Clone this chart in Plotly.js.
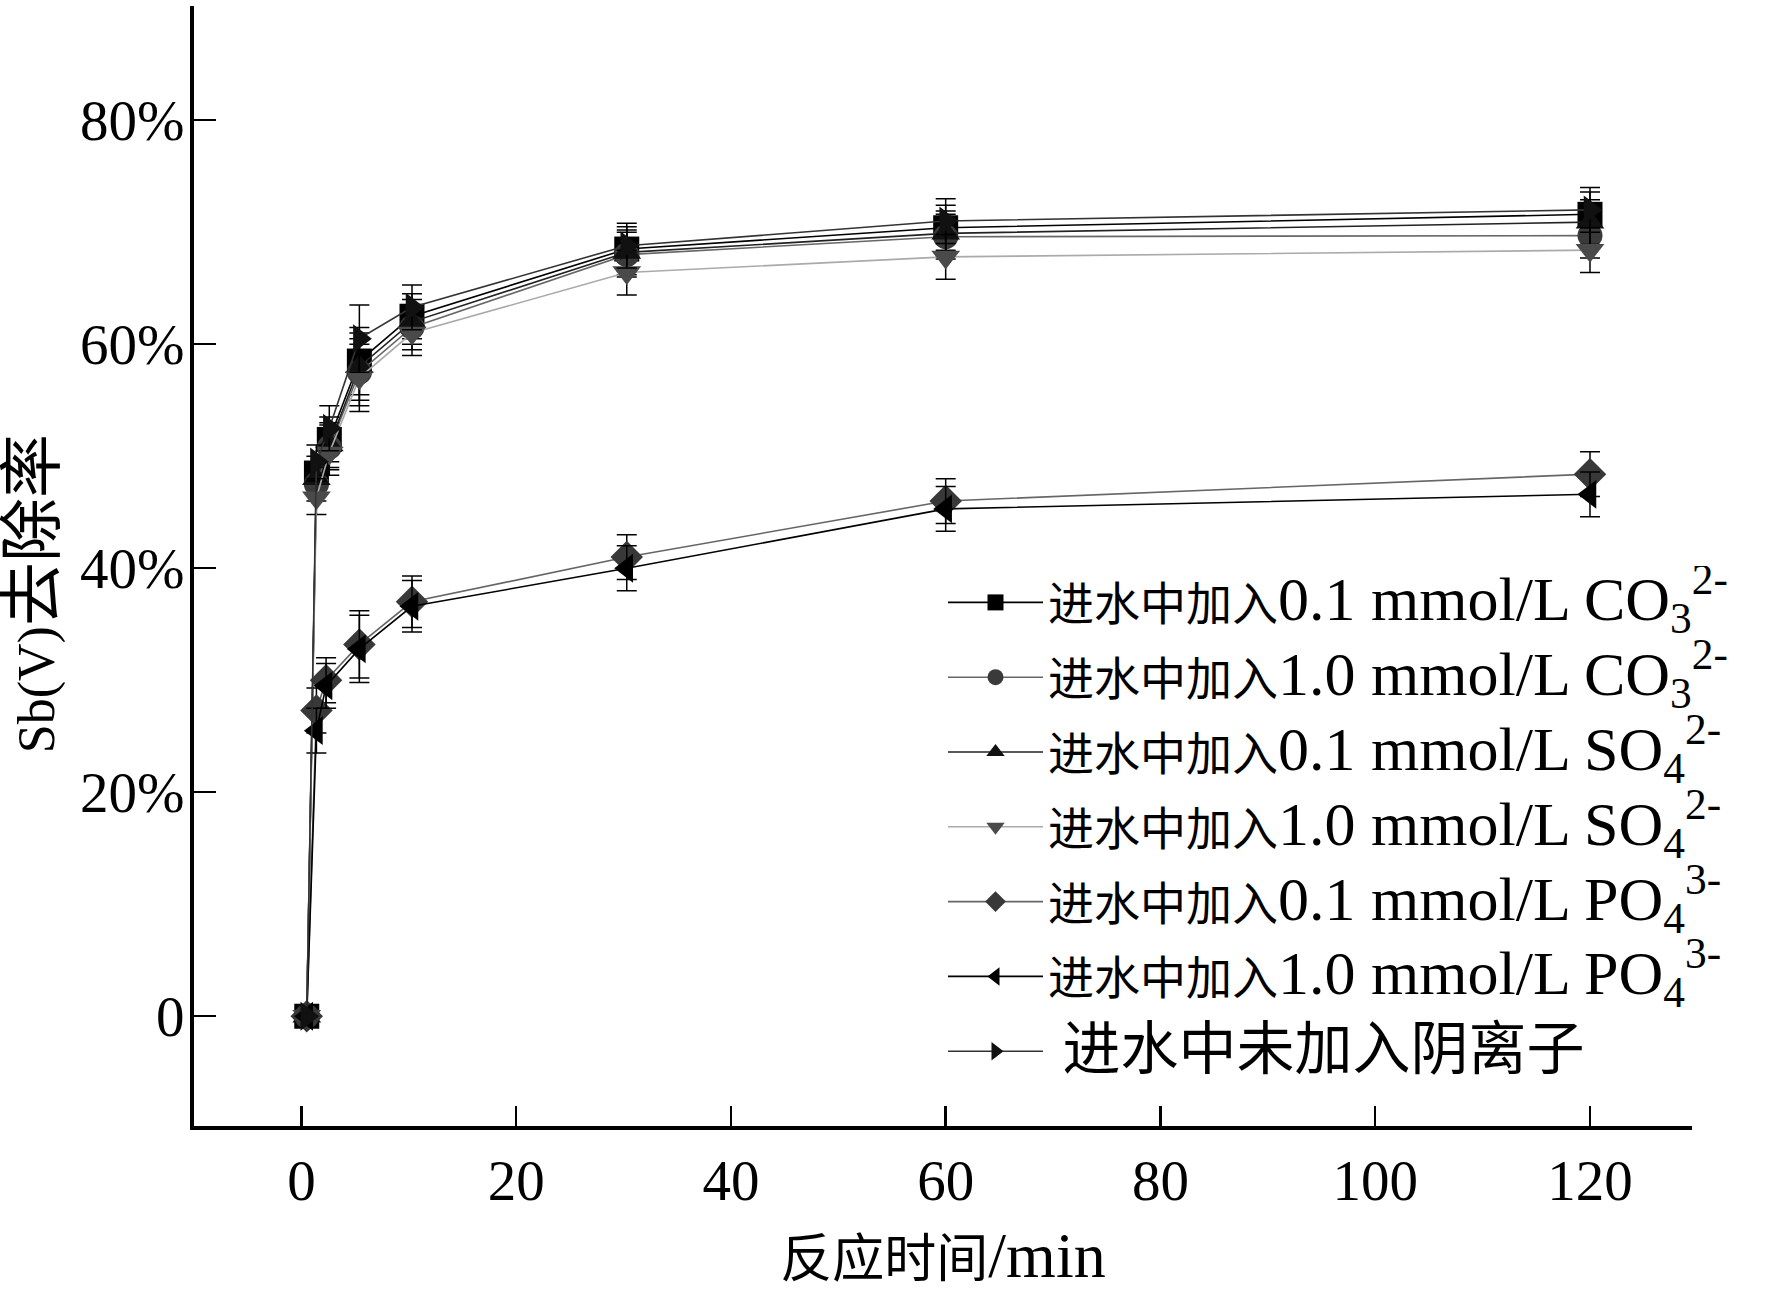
<!DOCTYPE html>
<html>
<head>
<meta charset="utf-8">
<script src="https://cdn.plot.ly/plotly-3.0.1.min.js"></script>
<style>html,body{margin:0;padding:0;background:#fff;}#chart{width:1768px;height:1302px;}</style>
</head>
<body>
<div id="chart"></div>
<script>
// Time points (min)
const timesUpper = [0.5, 1.4, 2.6, 5.4, 10.3, 30.3, 60, 120];
const timesLower = [0.5, 1.4, 2.3, 5.4, 10.3, 30.3, 60, 120];

// Sb(V) removal rate (%)
const co3Low  = [0, 48.5, 51.5, 58.5, 62.5, 68.5, 70.4, 71.6];
const co3High = [0, 47.5, 50.8, 57.5, 61.5, 68.0, 69.6, 69.7];
const so4Low  = [0, 48.0, 51.0, 58.0, 62.0, 68.2, 69.9, 70.9];
const so4High = [0, 46.3, 50.3, 57.0, 61.0, 66.4, 67.8, 68.4];
const po4Low  = [0, 27.3, 30.0, 33.2, 37.0, 41.0, 46.0, 48.4];
const po4High = [0, 25.5, 29.5, 32.8, 36.6, 40.0, 45.3, 46.6];
const noAnion = [0, 49.5, 52.5, 60.5, 63.3, 68.8, 71.0, 72.0];

// error bar half-lengths (%)
const errUpper = [0, 1.5, 2.0, 3.0, 2.0, 2.0, 2.0, 2.0];
const errLower = [0, 2.0, 2.0, 3.0, 2.3, 2.0, 2.0, 2.0];

const L = s => '<span style="font-size:62px">' + s + '</span>';
const seriesNames = [
  '进水中加入' + L('0.1 mmol/L CO<sub>3</sub><sup>2-</sup>'),
  '进水中加入' + L('1.0 mmol/L CO<sub>3</sub><sup>2-</sup>'),
  '进水中加入' + L('0.1 mmol/L SO<sub>4</sub><sup>2-</sup>'),
  '进水中加入' + L('1.0 mmol/L SO<sub>4</sub><sup>2-</sup>'),
  '进水中加入' + L('0.1 mmol/L PO<sub>4</sub><sup>3-</sup>'),
  '进水中加入' + L('1.0 mmol/L PO<sub>4</sub><sup>3-</sup>'),
  '<span style="font-size:58px">\u00a0进水中未加入阴离子</span>'
];

const seriesData = [co3Low, co3High, so4Low, so4High, po4Low, po4High, noAnion];
const seriesTimes = [timesUpper, timesUpper, timesUpper, timesUpper, timesLower, timesLower, timesUpper];
const seriesErr = [errUpper, errUpper, errUpper, errUpper, errLower, errLower, errUpper];
const symbols = ['square','circle','triangle-up','triangle-down','diamond','triangle-left','triangle-right'];
const markerColors = ['#000000','#3a3a3a','#111111','#4a4a4a','#383838','#000000','#111111'];
const lineColors = ['#000000','#666666','#222222','#aaaaaa','#666666','#000000','#333333'];

const traces = seriesData.map((ys, i) => ({
  type: 'scatter',
  mode: 'lines+markers',
  x: seriesTimes[i],
  y: ys,
  name: seriesNames[i],
  legendgroup: 'g' + i,
  line: {color: lineColors[i], width: 1.6},
  marker: {symbol: symbols[i], size: 25, color: markerColors[i]},
  error_y: {type: 'data', array: seriesErr[i], visible: true, color: '#000', thickness: 1.5, width: 10}
}));

const FONT = 'Liberation Serif, "Noto Sans CJK SC", serif';

const layout = {
  width: 1768, height: 1302,
  paper_bgcolor: '#fff', plot_bgcolor: '#fff',
  margin: {l: 194, r: 76, t: 6, b: 176},
  font: {family: FONT, color: '#000', size: 52},
  showlegend: true,
  legend: {
    x: 0.5, y: 0.5, xanchor: 'left', yanchor: 'top',
    bgcolor: 'rgba(0,0,0,0)', borderwidth: 0,
    font: {family: FONT, size: 46, color: '#000'},
    itemwidth: 95, tracegroupgap: 12,
    itemclick: false
  },
  xaxis: {
    range: [-10, 129.5],
    tickvals: [0, 20, 40, 60, 80, 100, 120],
    ticks: 'inside', ticklen: 20, tickwidth: 2.5, tickcolor: '#000',
    showline: true, linewidth: 4, linecolor: '#000',
    showgrid: false, zeroline: false,
    tickfont: {family: FONT, size: 57, color: '#000'},
    ticklabelstandoff: 2,
    title: {text: '反应时间' + '<span style="font-size:64px">/min</span>', font: {family: FONT, size: 52, color: '#000'}, standoff: 30}
  },
  yaxis: {
    range: [-9.8, 90.2],
    tickvals: [0, 20, 40, 60, 80],
    ticktext: ['0', '20%', '40%', '60%', '80%'],
    ticks: 'inside', ticklen: 22, tickwidth: 2.5, tickcolor: '#000',
    showline: true, linewidth: 4, linecolor: '#000',
    showgrid: false, zeroline: false,
    tickfont: {family: FONT, size: 57, color: '#000'},
    ticklabelstandoff: -6
  },
  annotations: [{
    text: 'Sb(V)<span style="font-size:64px">去除率</span>',
    textangle: -90,
    xref: 'paper', yref: 'paper',
    x: -0.108, y: 0.475, xanchor: 'center', yanchor: 'middle',
    showarrow: false,
    font: {family: FONT, size: 52, color: '#000'}
  }]
};

Plotly.newPlot('chart', traces, layout, {displayModeBar: false, staticPlot: true});
</script>
</body>
</html>
